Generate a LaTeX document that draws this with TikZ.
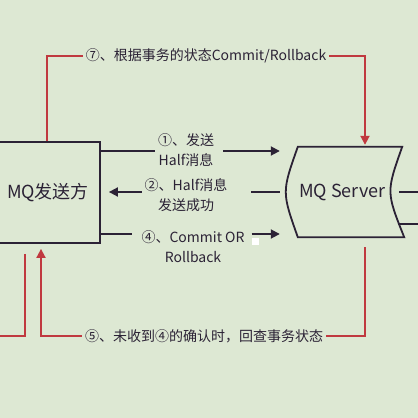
\documentclass[tikz,border=0pt]{standalone}
\usepackage{fontspec}
\setmainfont{Noto Sans CJK SC}
\usetikzlibrary{positioning, arrows.meta, calc}
\definecolor{bgcol}{HTML}{DDE8D3}
\definecolor{inkcol}{HTML}{2B2235}
\definecolor{redcol}{HTML}{C0393F}

\begin{document}
\begin{tikzpicture}[x=1pt, y=-1pt,
    box/.style={rectangle, draw=inkcol, line width=1.8pt, minimum width=104pt,
                minimum height=101pt, font=\fontsize{18}{20}\selectfont, text=inkcol},
    msg/.style={align=center, inner sep=3pt, font=\fontsize{14}{20}\selectfont, text=inkcol},
    line/.style={line width=1.8pt, draw=inkcol},
    arrow/.style={line, -{Triangle[length=9pt, width=9pt]}},
    redline/.style={line width=1.8pt, draw=redcol},
    redarrow/.style={redline, -{Triangle[length=9pt, width=9pt]}}
]
    \useasboundingbox (0,0) rectangle (418,418);
    \fill[bgcol] (0,0) rectangle (418,418);

    % Sender
    \node[box] (sender) at (48,192.5) {MQ发送方};

    % Server
    \node[minimum width=125pt, minimum height=90pt, inner sep=0pt,
          font=\fontsize{18}{20}\selectfont, text=inkcol] (server) at (342.5,192) {MQ Server};
    \draw[line] ([xshift=18pt]server.north west) -- ([xshift=-3pt]server.north east)
        .. controls ([xshift=-19pt]server.east) and ([xshift=-19pt]server.east) .. ([xshift=-1pt]server.south east)
        -- ([xshift=18pt]server.south west)
        .. controls ([xshift=2pt]server.west) and ([xshift=2pt]server.west) .. cycle;

    % Messages
    \node[msg] (lab1) at (186,150) {①、发送\\Half消息};
    \node[msg] (lab2) at (186,195.5) {②、Half消息\\发送成功};
    \node[msg] (lab3) at (193,246.5) {④、Commit OR\\Rollback};
    \node[msg] (lab7) at (206,56) {⑦、根据事务的状态Commit/Rollback};
    \node[msg] (lab5) at (204,336) {⑤、未收到④的确认时，回查事务状态};

    % Rows
    \coordinate (r1) at (0,151);
    \coordinate (r2) at (0,192);
    \coordinate (r3) at (0,234);
    \coordinate (out1) at (430,192);
    \coordinate (out2) at (430,224);
    \coordinate (leftend) at (-10,336);

    % Arrows
    \draw[line] (sender.east |- r1) -- (lab1.west |- r1);
    \draw[arrow, shorten <=6pt] (lab1.east |- r1) -- (server.west |- r1);
    \draw[line, shorten >=20pt] (server.west |- r2) -- (lab2.east |- r2);
    \draw[arrow, shorten >=8pt] (lab2.west |- r2) -- (sender.east |- r2);
    \draw[line, shorten >=6pt] (sender.east |- r3) -- (lab3.west |- r3);
    \draw[arrow, shorten <=4pt] (lab3.east |- r3) -- (server.west |- r3);
    \draw[line, shorten <=-6pt] (server.east |- out1) -- (out1);
    \draw[line, shorten <=-7pt] (server.east |- out2) -- (out2);

    % Red loops
    \draw[redline] ([xshift=-1pt]sender.north) |- (lab7.west);
    \draw[redarrow, shorten >=2pt] (lab7.east) -| ([xshift=22.5pt]server.north);
    \draw[redline] ([xshift=22.5pt, yshift=-10pt]server.south) |- (lab5.east);
    \draw[redarrow] (lab5.west) -| ([xshift=-7pt, yshift=-5pt]sender.south);
    \draw[redline] ([xshift=-23pt, yshift=-10pt]sender.south) |- (leftend);

    \fill[white] (252,238) rectangle (259,245);
\end{tikzpicture}
\end{document}
